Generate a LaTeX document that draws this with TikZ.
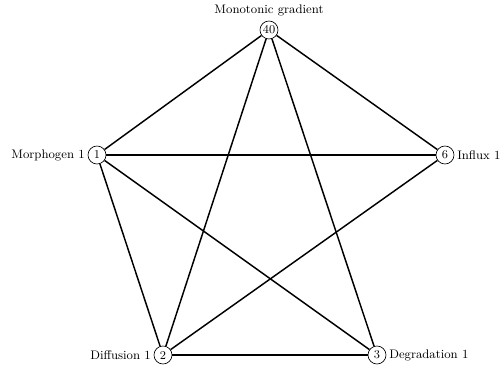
\documentclass[tikz,border=0pt]{standalone}
\begin{document}
\begin{tikzpicture}[x=0.75pt,y=-0.75pt,
  vert/.style={circle,draw,line width=0.5pt,inner sep=0pt,minimum size=13.5pt,font=\fontsize{9}{10}\selectfont},
  lab/.style={inner sep=0pt,font=\fontsize{9.3}{11}\selectfont},
  edge/.style={line width=1.1pt}]
\useasboundingbox (0,0) rectangle (501,372);
\node[vert] (n40) at (269,30) {40};
\node[vert] (n1) at (97,155) {1};
\node[vert] (n6) at (445,155) {6};
\node[vert] (n2) at (163,355) {2};
\node[vert] (n3) at (377,355) {3};
\node[lab,anchor=south] (l40) at (269,16) {Monotonic gradient};
\node[lab,anchor=east] (l1) at (85,155) {Morphogen 1};
\node[lab,anchor=west] (l6) at (457,155) {Influx 1};
\node[lab,anchor=east] (l2) at (151,355) {Diffusion 1};
\node[lab,anchor=west] (l3) at (389,355) {Degradation 1};
\draw[edge] (n40) -- (n1);
\draw[edge] (n40) -- (n6);
\draw[edge] (n40) -- (n2);
\draw[edge] (n40) -- (n3);
\draw[edge] (n1) -- (n6);
\draw[edge] (n1) -- (n2);
\draw[edge] (n1) -- (n3);
\draw[edge] (n6) -- (n2);
\draw[edge] (n2) -- (n3);
\end{tikzpicture}
\end{document}
